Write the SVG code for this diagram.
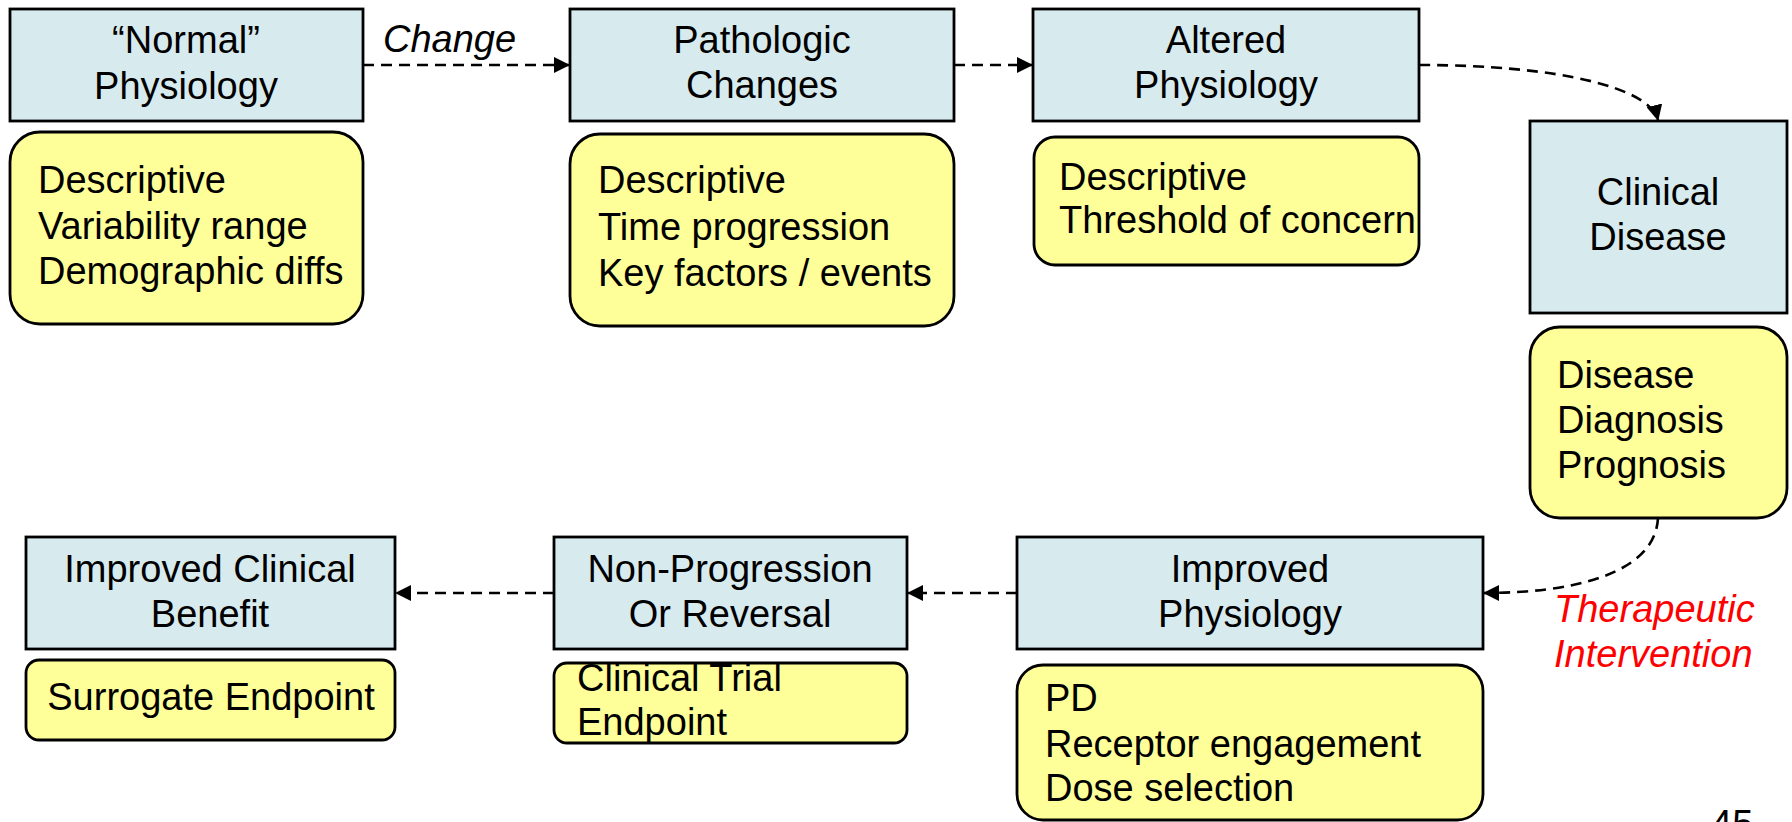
<svg xmlns="http://www.w3.org/2000/svg" width="1792" height="822" viewBox="0 0 1792 822">
<style>
.box{fill:#D7EBEE;stroke:#000;stroke-width:2.8}
.note{fill:#FFFF99;stroke:#000;stroke-width:2.8}
text{font-family:"Liberation Sans",Arial,sans-serif;font-size:38px;fill:#000}
.c{text-anchor:middle}
.it{font-style:italic}
.red{fill:#FF0000}
.conn{fill:none;stroke:#000;stroke-width:2.6;stroke-dasharray:11 7}
</style>
<defs>
<marker id="arr" markerUnits="userSpaceOnUse" viewBox="0 0 16 16" refX="15" refY="8" markerWidth="16" markerHeight="16" orient="auto">
<path d="M0,0 L16,8 L0,16 z" fill="#000"/>
</marker>
</defs>
<rect width="1792" height="822" fill="#fff"/>
<g id="connectors">
<path class="conn" d="M363,65 L569,65" marker-end="url(#arr)"/>
<path class="conn" d="M954,65 L1032,65" marker-end="url(#arr)"/>
<path class="conn" d="M1419,65 C1560,65 1650,88 1658,120" marker-end="url(#arr)"/>
<path class="conn" d="M1658,518 C1655,575 1570,593 1484,593" marker-end="url(#arr)"/>
<path class="conn" d="M1017,593 L908,593" marker-end="url(#arr)"/>
<path class="conn" d="M554,593 L396,593" marker-end="url(#arr)"/>
<text class="it" x="383" y="52">Change</text>
<text class="it red" x="1554" y="622">Therapeutic</text>
<text class="it red" x="1554" y="667">Intervention</text>
</g>
<g id="normal-physiology">
<rect class="box" x="10" y="9" width="353" height="112"/>
<text class="c" x="186" y="53">“Normal”</text>
<text class="c" x="186" y="99">Physiology</text>
</g>
<g id="normal-notes">
<rect class="note" x="10" y="132" width="353" height="192" rx="30"/>
<text x="38" y="193">Descriptive</text>
<text x="38" y="239">Variability range</text>
<text x="38" y="284">Demographic diffs</text>
</g>
<g id="pathologic-changes">
<rect class="box" x="570" y="9" width="384" height="112"/>
<text class="c" x="762" y="53">Pathologic</text>
<text class="c" x="762" y="98">Changes</text>
</g>
<g id="pathologic-notes">
<rect class="note" x="570" y="134" width="384" height="192" rx="30"/>
<text x="598" y="193">Descriptive</text>
<text x="598" y="240">Time progression</text>
<text x="598" y="286">Key factors / events</text>
</g>
<g id="altered-physiology">
<rect class="box" x="1033" y="9" width="386" height="112"/>
<text class="c" x="1226" y="53">Altered</text>
<text class="c" x="1226" y="98">Physiology</text>
</g>
<g id="altered-notes">
<rect class="note" x="1034" y="137" width="385" height="128" rx="21"/>
<text x="1059" y="190">Descriptive</text>
<text x="1059" y="233">Threshold of concern</text>
</g>
<g id="clinical-disease">
<rect class="box" x="1530" y="121" width="257" height="192"/>
<text class="c" x="1658" y="205">Clinical</text>
<text class="c" x="1658" y="250">Disease</text>
</g>
<g id="clinical-notes">
<rect class="note" x="1530" y="327" width="257" height="191" rx="30"/>
<text x="1557" y="388">Disease</text>
<text x="1557" y="433">Diagnosis</text>
<text x="1557" y="478">Prognosis</text>
</g>
<g id="improved-physiology">
<rect class="box" x="1017" y="537" width="466" height="112"/>
<text class="c" x="1250" y="582">Improved</text>
<text class="c" x="1250" y="627">Physiology</text>
</g>
<g id="improved-notes">
<rect class="note" x="1017" y="665" width="466" height="155" rx="26"/>
<text x="1045" y="711">PD</text>
<text x="1045" y="757">Receptor engagement</text>
<text x="1045" y="801">Dose selection</text>
</g>
<g id="non-progression">
<rect class="box" x="554" y="537" width="353" height="112"/>
<text class="c" x="730" y="582">Non-Progression</text>
<text class="c" x="730" y="627">Or Reversal</text>
</g>
<g id="non-progression-notes">
<rect class="note" x="554" y="663" width="353" height="80" rx="13"/>
<text x="577" y="691">Clinical Trial</text>
<text x="577" y="735">Endpoint</text>
</g>
<g id="clinical-benefit">
<rect class="box" x="26" y="537" width="369" height="112"/>
<text class="c" x="210" y="582">Improved Clinical</text>
<text class="c" x="210" y="627">Benefit</text>
</g>
<g id="clinical-benefit-notes">
<rect class="note" x="26" y="660" width="369" height="80" rx="13"/>
<text class="c" x="211" y="710">Surrogate Endpoint</text>
</g>
<text x="1711" y="837" font-size="36">45</text>
</svg>
